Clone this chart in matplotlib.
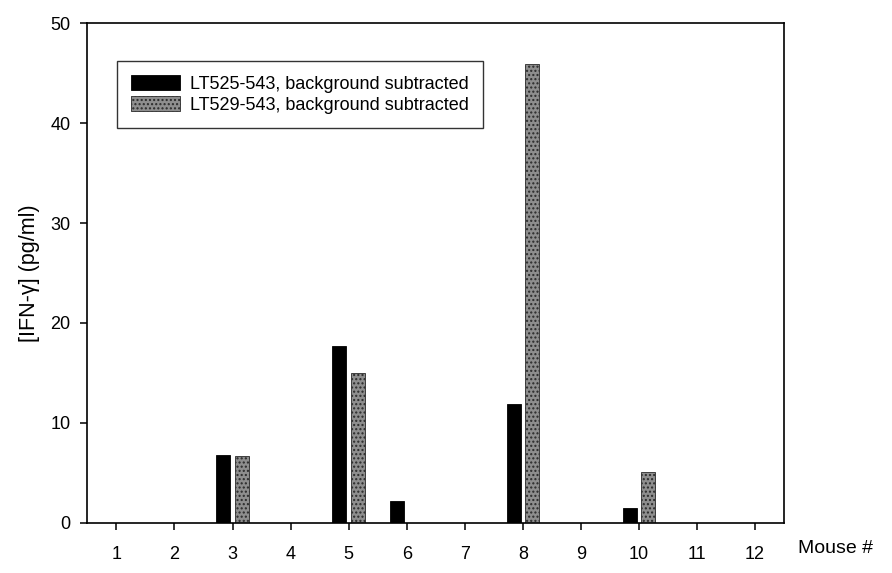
import matplotlib
matplotlib.use("Agg")
import matplotlib.pyplot as plt
import numpy as np

plt.rcParams["font.family"] = ["Liberation Sans", "DejaVu Sans"]

# IFN-gamma per mouse, background subtracted (pg/ml)
mice = list(range(1, 13))
lt525 = [0, 0, 6.8, 0, 17.7, 2.2, 0, 11.9, 0, 1.5, 0, 0]
lt529 = [0, 0, 6.7, 0, 15.0, 0, 0, 45.9, 0, 5.1, 0, 0]
labels = ["LT525-543, background subtracted", "LT529-543, background subtracted"]

fig = plt.figure(figsize=(8.92, 5.73), dpi=100)
ax = fig.add_axes([0.098, 0.088, 0.781, 0.871])

x = np.array(mice)
w = 0.24
ax.bar(x - 0.16, lt525, width=w, color="black", edgecolor="black",
       linewidth=0.6, label=labels[0])
ax.bar(x + 0.16, lt529, width=w, color="#8e8e8e", edgecolor="#2a2a2a",
       hatch="....", linewidth=0.6, label=labels[1])

ax.set_xlim(0.5, 12.5)
ax.set_ylim(0, 50)
ax.set_xticks(mice)
ax.set_yticks(range(0, 51, 10))

for s in ax.spines.values():
    s.set_linewidth(1.2)
    s.set_color("black")

ax.tick_params(axis="x", direction="out", length=5, width=1.1,
               pad=12, labelsize=13)
ax.tick_params(axis="y", direction="out", length=5, width=1.1,
               pad=7, labelsize=13)

ax.set_ylabel("[IFN-γ] (pg/ml)", fontsize=15.5, labelpad=8)
fig.text(0.895, 0.042, "Mouse #", fontsize=14, ha="left", va="center")

leg = ax.legend(loc="upper left", bbox_to_anchor=(0.043, 0.924),
                borderaxespad=0, fontsize=13, frameon=True, fancybox=False,
                handlelength=2.7, handleheight=0.9, handletextpad=0.6,
                labelspacing=0.2, borderpad=0.75)
leg.get_frame().set_edgecolor("black")
leg.get_frame().set_linewidth(1.0)

fig.savefig("out.png", dpi=100)
